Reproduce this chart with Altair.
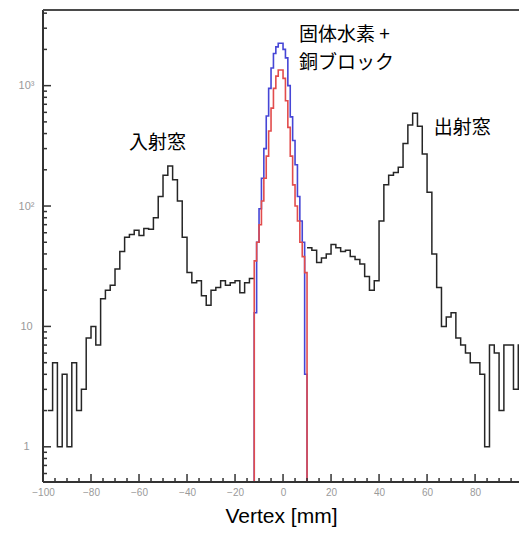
import altair as alt
import pandas as pd

# ---- vertex distribution (counts per bin) ----
# outer histogram, 2 mm bins, split around the target region
BG_BIN_WIDTH = 2
BG_LEFT_START = -98
BG_LEFT_COUNTS = [2, 5, 1, 4, 1, 5, 2, 3, 8, 10,
                  7, 17, 20, 22, 30, 42, 55, 58, 63, 57,
                  65, 64, 80, 120, 180, 215, 165, 110, 55, 28,
                  23, 24, 18, 15, 20, 21, 24, 22, 23, 24,
                  19, 23, 25]
BG_RIGHT_START = 10
BG_RIGHT_COUNTS = [45, 43, 34, 37, 40, 48, 45, 42, 43, 38,
                   36, 33, 26, 20, 24, 75, 150, 180, 190, 210,
                   330, 470, 590, 460, 270, 130, 40, 21, 10, 12,
                   13, 8, 7, 6, 5, 5, 4, 1, 7, 6,
                   2, 7, 7, 3, 7]

# target region, 1 mm bins: all events (blue) and the hydrogen component (red)
TARGET_BIN_WIDTH = 1
TARGET_START = -12
TARGET_TOTAL = [13, 50, 95, 170, 300, 560, 950, 1400, 1850, 2100, 2250,
                2250, 2000, 1700, 1000, 550, 350, 220, 120, 75, 50, 4]
TARGET_HYDROGEN = [35, 50, 70, 110, 170, 260, 420, 650, 950, 1200, 1350,
                   1350, 1150, 750, 450, 260, 150, 100, 75, 50, 38, 28]

# ---- axes ----
X_DOMAIN = [-100, 98.3]
Y_DOMAIN = [0.51, 4250]
X_MAJOR = [-100, -80, -60, -40, -20, 0, 20, 40, 60, 80]
X_MINOR = [-95, -90, -85, -75, -70, -65, -55, -50, -45, -35, -30, -25,
           -15, -10, -5, 5, 10, 15, 25, 30, 35, 45, 50, 55, 65, 70, 75,
           85, 90, 95]
Y_MAJOR = [1, 10, 100, 1000]
Y_MINOR = [0.6, 0.7, 0.8, 0.9,
           2, 3, 4, 5, 6, 7, 8, 9,
           20, 30, 40, 50, 60, 70, 80, 90,
           200, 300, 400, 500, 600, 700, 800, 900,
           2000, 3000, 4000]

# ---- annotations ----
NOTE_CENTER_TEXT = ["入射窓", "出射窓"]
NOTE_CENTER_X = [-52.3, 74.7]
NOTE_CENTER_Y = [333, 444]
NOTE_LEFT_TEXT = ["固体水素 +", "銅ブロック"]
NOTE_LEFT_X = [6.6, 6.6]
NOTE_LEFT_Y = [2624, 1538]

PLOT_W = 476
PLOT_H = 472
AXIS_GREY = "#9a9a9a"
FRAME = "#333333"
MAJOR_LEN = 8
MINOR_LEN = 4


def step_rows(start, width, counts, segment, to_floor):
    """Vertices of a histogram outline drawn as steps."""
    pts = []
    if to_floor:
        pts.append((start, 0))
    for i, c in enumerate(counts):
        pts.append((start + i * width, c))
        pts.append((start + (i + 1) * width, c))
    if to_floor:
        pts.append((start + len(counts) * width, 0))
    return [{"vertex": x, "count": c, "segment": segment, "order": k}
            for k, (x, c) in enumerate(pts)]


bg = pd.DataFrame(
    step_rows(BG_LEFT_START, BG_BIN_WIDTH, BG_LEFT_COUNTS, "left", False)
    + step_rows(BG_RIGHT_START, BG_BIN_WIDTH, BG_RIGHT_COUNTS, "right", False)
)
total = pd.DataFrame(step_rows(TARGET_START, TARGET_BIN_WIDTH, TARGET_TOTAL, "total", True))
hydrogen = pd.DataFrame(step_rows(TARGET_START, TARGET_BIN_WIDTH, TARGET_HYDROGEN, "h", True))

x_scale = alt.Scale(domain=X_DOMAIN, nice=False, zero=False)
y_scale = alt.Scale(type="log", domain=Y_DOMAIN, nice=False)

# empty bins are drawn down to the bottom of the frame
floor_expr = f"max(datum.count, {Y_DOMAIN[0]})"

x_axis = alt.Axis(
    values=X_MAJOR, format="d", ticks=False, domain=False, grid=False,
    labelPadding=5, labelFontSize=10, labelColor=AXIS_GREY, labelFont="Liberation Sans",
    labelFlush=False, labelOverlap=False,
    title="Vertex [mm]", titleFont="Liberation Sans", titleFontSize=21,
    titleFontWeight="normal", titleColor="#000000", titlePadding=8,
)
y_axis = alt.Axis(
    values=Y_MAJOR, ticks=False, domain=False, grid=False,
    labelExpr="datum.value == 100 ? '10²' : datum.value == 1000 ? '10³' : datum.label",
    labelAlign="center", labelBaseline="middle", labelPadding=17,
    labelFontSize=11, labelColor=AXIS_GREY, labelFont="Liberation Sans",
    labelOverlap=False, labelFlush=False, title=None,
)

background = alt.Chart(bg).mark_line(
    color="#262626", strokeWidth=1.5, clip=True
).transform_calculate(shown=floor_expr).encode(
    x=alt.X("vertex:Q", scale=x_scale, axis=x_axis),
    y=alt.Y("shown:Q", scale=y_scale, axis=y_axis),
    detail="segment:N",
    order="order:Q",
)

total_line = alt.Chart(total).mark_line(
    color="#4646d6", strokeWidth=1.6, clip=True
).transform_calculate(shown=floor_expr).encode(
    x=alt.X("vertex:Q", scale=x_scale),
    y=alt.Y("shown:Q", scale=y_scale),
    order="order:Q",
)

hydrogen_line = alt.Chart(hydrogen).mark_line(
    color="#e24c4c", strokeWidth=1.6, clip=True
).transform_calculate(shown=floor_expr).encode(
    x=alt.X("vertex:Q", scale=x_scale),
    y=alt.Y("shown:Q", scale=y_scale),
    order="order:Q",
)

# ---- frame: left, bottom and top edges ----
frame_df = pd.DataFrame({
    "x0": [X_DOMAIN[0]], "x1": [X_DOMAIN[1]],
    "y0": [Y_DOMAIN[0]], "y1": [Y_DOMAIN[1]],
})
left_edge = alt.Chart(frame_df).mark_rule(color=FRAME, strokeWidth=2).encode(
    x=alt.X("x0:Q", scale=x_scale),
    y=alt.Y("y0:Q", scale=y_scale), y2="y1:Q",
)
bottom_edge = alt.Chart(frame_df).mark_rule(color=FRAME, strokeWidth=2).encode(
    y=alt.Y("y0:Q", scale=y_scale),
    x=alt.X("x0:Q", scale=x_scale), x2="x1:Q",
)
top_edge = alt.Chart(frame_df).mark_rule(color="#4a4a4a", strokeWidth=2).encode(
    y=alt.Y("y1:Q", scale=y_scale),
    x=alt.X("x0:Q", scale=x_scale), x2="x1:Q",
)


# ---- tick marks pointing into the frame ----
def x_ticks(values, length):
    df = pd.DataFrame({"v": values, "floor": [Y_DOMAIN[0]] * len(values)})
    return alt.Chart(df).mark_rule(color=FRAME, strokeWidth=1.5).encode(
        x=alt.X("v:Q", scale=x_scale),
        y=alt.Y("floor:Q", scale=y_scale),
        y2=alt.value(PLOT_H - length),
    )


def y_ticks(values, length):
    df = pd.DataFrame({"v": values, "edge": [X_DOMAIN[0]] * len(values)})
    return alt.Chart(df).mark_rule(color=FRAME, strokeWidth=1.5).encode(
        y=alt.Y("v:Q", scale=y_scale),
        x=alt.X("edge:Q", scale=x_scale),
        x2=alt.value(length),
    )


ticks = [x_ticks(X_MAJOR, MAJOR_LEN), x_ticks(X_MINOR, MINOR_LEN),
         y_ticks(Y_MAJOR, MAJOR_LEN), y_ticks(Y_MINOR, MINOR_LEN)]

notes_center = alt.Chart(pd.DataFrame({
    "x": NOTE_CENTER_X, "y": NOTE_CENTER_Y, "text": NOTE_CENTER_TEXT
})).mark_text(
    font="Noto Sans CJK JP", fontSize=19, color="#000000",
    align="center", baseline="middle",
).encode(
    x=alt.X("x:Q", scale=x_scale),
    y=alt.Y("y:Q", scale=y_scale),
    text="text:N",
)

notes_left = alt.Chart(pd.DataFrame({
    "x": NOTE_LEFT_X, "y": NOTE_LEFT_Y, "text": NOTE_LEFT_TEXT
})).mark_text(
    font="Noto Sans CJK JP", fontSize=19, color="#000000",
    align="left", baseline="middle",
).encode(
    x=alt.X("x:Q", scale=x_scale),
    y=alt.Y("y:Q", scale=y_scale),
    text="text:N",
)

chart = alt.layer(
    background, total_line, hydrogen_line,
    left_edge, bottom_edge, top_edge, *ticks,
    notes_center, notes_left,
).properties(
    width=PLOT_W,
    height=PLOT_H,
    autosize=alt.AutoSizeParams(type="none"),
    padding={"left": 43, "top": 10, "right": 0, "bottom": 56},
    background="#ffffff",
).configure_view(
    strokeWidth=0
)

chart.save("out.html", embed_options={"renderer": "svg", "actions": False})
